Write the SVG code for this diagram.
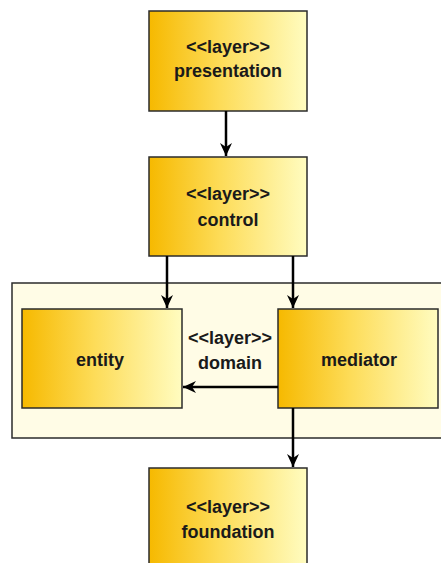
<svg xmlns="http://www.w3.org/2000/svg" width="441" height="563" viewBox="0 0 441 563">
  <style>
    .box { stroke: #2b2b2b; stroke-width: 1.5; fill: url(#gold); }
    .pkg { stroke: #2b2b2b; stroke-width: 1.5; fill: #fffce6; }
    .lbl { font-family: "Liberation Sans", Arial, sans-serif; font-weight: bold; font-size: 18px; fill: #1a1a1a; text-anchor: middle; }
    .edge { stroke: #000; stroke-width: 2.5; fill: none; marker-end: url(#arrow); }
  </style>
  <defs>
    <linearGradient id="gold" x1="0" y1="0" x2="1" y2="0">
      <stop offset="0" stop-color="#f6b900"/>
      <stop offset="0.45" stop-color="#fddc58"/>
      <stop offset="1" stop-color="#fffcc0"/>
    </linearGradient>
    <marker id="arrow" viewBox="0 0 14 14" refX="13" refY="7" markerWidth="14" markerHeight="14" markerUnits="userSpaceOnUse" orient="auto">
      <path d="M0,1 L13,7 L0,13 L4,7 Z" fill="#000"/>
    </marker>
  </defs>

  <!-- domain package -->
  <g id="domain">
    <rect class="pkg" x="12" y="283" width="440" height="155"/>
    <text class="lbl" x="230" y="344">&lt;&lt;layer&gt;&gt;</text>
    <text class="lbl" x="230" y="369">domain</text>
  </g>

  <g id="presentation">
    <rect class="box" x="149" y="11" width="158" height="100"/>
    <text class="lbl" x="228" y="53">&lt;&lt;layer&gt;&gt;</text>
    <text class="lbl" x="228" y="77">presentation</text>
  </g>

  <g id="control">
    <rect class="box" x="149" y="157" width="158" height="99"/>
    <text class="lbl" x="228" y="200">&lt;&lt;layer&gt;&gt;</text>
    <text class="lbl" x="228" y="226">control</text>
  </g>

  <g id="entity">
    <rect class="box" x="22" y="309" width="160" height="99"/>
    <text class="lbl" x="100" y="366">entity</text>
  </g>

  <g id="mediator">
    <rect class="box" x="278" y="309" width="160" height="99"/>
    <text class="lbl" x="359" y="366">mediator</text>
  </g>

  <g id="foundation">
    <rect class="box" x="149" y="468" width="158" height="110"/>
    <text class="lbl" x="228" y="513">&lt;&lt;layer&gt;&gt;</text>
    <text class="lbl" x="228" y="538">foundation</text>
  </g>

  <g id="connectors">
    <path class="edge" d="M226,111 V156"/>
    <path class="edge" d="M167,256 V308"/>
    <path class="edge" d="M293,256 V308"/>
    <path class="edge" d="M278,387 H183"/>
    <path class="edge" d="M293,408 V467"/>
  </g>
</svg>
